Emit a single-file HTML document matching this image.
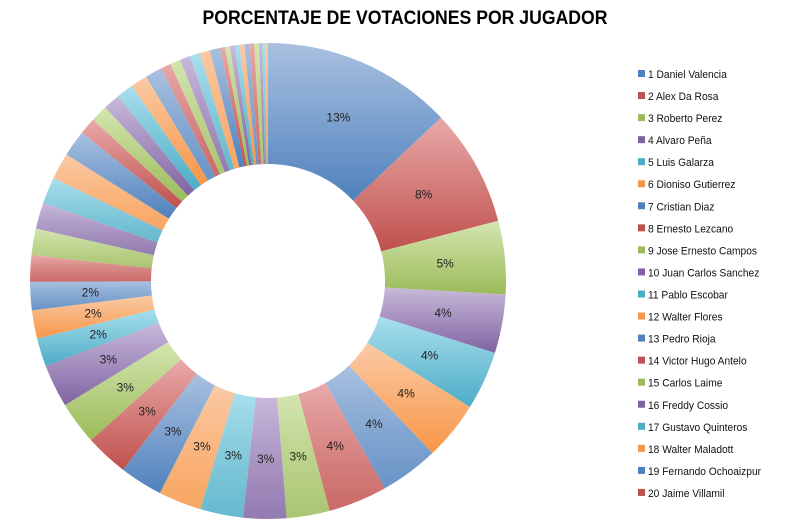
<!DOCTYPE html>
<html><head><meta charset="utf-8"><style>
body{margin:0;background:#fff;}
svg{display:block;font-family:"Liberation Sans",sans-serif;}
</style></head><body>
<svg id="s" width="787" height="530" xmlns="http://www.w3.org/2000/svg">
<defs id="d"></defs>
<text x="405" y="24" text-anchor="middle" font-size="19" font-weight="bold" textLength="405" lengthAdjust="spacingAndGlyphs" fill="#000">PORCENTAJE DE VOTACIONES POR JUGADOR</text>
<g id="g"></g>
</svg>
<script>
var base=[["#4f81bd","#a9c1e0"],["#c0504d","#e8aaa9"],["#9bbb59","#d4e5b0"],["#8064a2","#c8b9da"],["#4bacc6","#a9dfec"],["#f79646","#fbcaa6"]];
var d=document.getElementById('d'),g=document.getElementById('g');
var h='';
base.forEach(function(c,i){h+='<linearGradient id="c'+i+'" x1="0" y1="0" x2="0" y2="1"><stop offset="0" stop-color="'+c[1]+'"/><stop offset="1" stop-color="'+c[0]+'"/></linearGradient>';
h+='<linearGradient id="l'+i+'" x1="0" y1="0" x2="0" y2="1"><stop offset="0" stop-color="'+c[1]+'"/><stop offset="1" stop-color="'+c[0]+'" stop-opacity="0.85"/></linearGradient>';});
d.innerHTML=h;
var p=[13,8,5,4,4,4,4,4,2.93,2.93,2.93,2.93,2.93,2.93,2.93,2.93,1.93,1.93,1.93];
var lab=[13,8,5,4,4,4,4,4,3,3,3,3,3,3,3,3,2,2,2];
[[6,1.8],[6,1.15],[6,0.7],[8,0.33],[3,0.2]].forEach(function(a){for(var i=0;i<a[0];i++)p.push(a[1]);});
var tot=p.reduce(function(a,b){return a+b},0);
var cx=268,cy=281,R=238,r=117,a0=0,out='';
function pt(a,rr){return [cx+rr*Math.sin(a),cy-rr*Math.cos(a)];}
p.forEach(function(v,i){
 var a1=a0+v/tot*2*Math.PI;
 var A=pt(a0,R),B=pt(a1,R),C=pt(a1,r),D=pt(a0,r),lg=(a1-a0)>Math.PI?1:0;
 var ci=i%6,light=(Math.floor(i/6)%2==1);
 out+='<path d="M'+A+' A'+R+' '+R+' 0 '+lg+' 1 '+B+' L'+C+' A'+r+' '+r+' 0 '+lg+' 0 '+D+'Z" fill="url(#'+(light?'l':'c')+ci+')"/>';
 if(i<lab.length){var m=pt((a0+a1)/2,178);out+='<text x="'+m[0]+'" y="'+(m[1]+4)+'" text-anchor="middle" font-size="12" fill="#222">'+lab[i]+'%</text>';}
 a0=a1;
});
var names=["Daniel Valencia","Alex Da Rosa","Roberto Perez","Alvaro Peña","Luis Galarza","Dioniso Gutierrez","Cristian Diaz","Ernesto Lezcano","Jose Ernesto Campos","Juan Carlos Sanchez","Pablo Escobar","Walter Flores","Pedro Rioja","Victor Hugo Antelo","Carlos Laime","Freddy Cossio","Gustavo Quinteros","Walter Maladott","Fernando Ochoaizpur","Jaime Villamil"];
names.forEach(function(n,i){var y=74+i*22.05;
 out+='<rect x="638" y="'+(y-4)+'" width="7" height="7" fill="'+base[i%6][0]+'"/>';
 out+='<text x="648" y="'+(y+4)+'" font-size="11" fill="#111" transform="translate(648 0) scale(0.93 1) translate(-648 0)">'+(i+1)+' '+n+'</text>';});
g.innerHTML=out;
</script>
</body></html>
